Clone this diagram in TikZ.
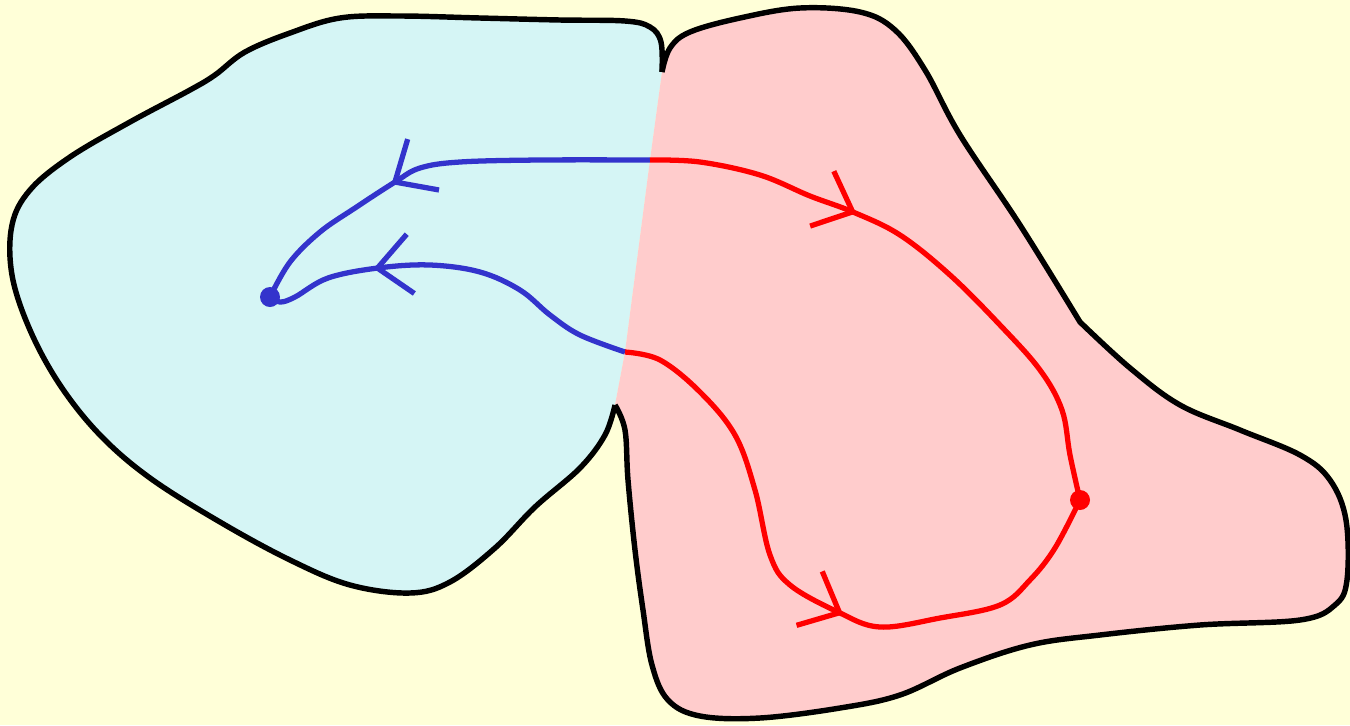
\documentclass[tikz,border=0pt]{standalone}
\usetikzlibrary{decorations.markings}

\definecolor{bgyellow}{RGB}{255,255,216}
\definecolor{lightcyan}{RGB}{213,245,245}
\definecolor{lightpink}{RGB}{255,204,204}
\definecolor{pathblue}{RGB}{51,51,204}
\definecolor{pathred}{RGB}{255,0,0}

\newcommand{\cyanrim}{plot[smooth, tension=0.6] coordinates {(662,72) (661,42) (650,27) (625,21) (560,20) (480,18) (400,16) (340,18) (290,33) (245,52) (215,75) (190,90) (130,122) (70,157) (30,190) (12,225) (12,275) (30,330) (60,385) (100,435) (150,478) (220,522) (290,560) (350,585) (410,593) (450,582) (495,548) (535,507) (580,468) (605,435) (615,405)}}
\newcommand{\pinkrim}{plot[smooth, tension=0.6] coordinates {(662,72) (670,48) (690,32) (740,18) (800,8) (860,12) (895,30) (925,70) (960,135) (1020,225) (1080,322)} -- plot[smooth, tension=0.6] coordinates {(1080,322) (1130,368) (1180,405) (1240,430) (1300,455) (1330,480) (1346,520) (1347,580) (1335,605) (1300,620) (1200,625) (1100,635) (1030,645) (960,668) (900,695) (840,708) (760,718) (700,716) (668,700) (652,665) (643,610) (635,550) (628,480) (625,430) (615,405)}}

\begin{document}
\begin{tikzpicture}[x=0.02cm, y=-0.02cm, line join=round,
    outline/.style={line width=3.1pt, black},
    bluepath/.style={line width=3pt, pathblue},
    redpath/.style={line width=3pt, pathred},
    barb/.style 2 args={postaction={decorate}, decoration={markings,
        mark=at position #1 with {\draw[#2, line width=3pt, line join=miter] (-19pt,17pt) -- (0pt,0pt) -- (-19pt,-17pt);}}}]
    \useasboundingbox (0,0) rectangle (1350,725);
    \fill[bgyellow] (0,0) rectangle (1350,725);

    % meeting points on the border between the two regions
    \coordinate (top) at (662,72);
    \coordinate (a) at (650,160);
    \coordinate (b) at (625,352);
    \coordinate (low) at (615,405);
    % end points
    \coordinate (p) at (270,297);
    \coordinate (q) at (1080,500);

    % regions
    \fill[lightcyan] \cyanrim -- (b) -- (a) -- cycle;
    \fill[lightpink] \pinkrim -- (b) -- (a) -- cycle;
    \draw[outline] \cyanrim;
    \draw[outline] \pinkrim;

    % blue paths
    \draw[bluepath, barb={0.6}{pathblue}] plot[smooth, tension=0.6] coordinates {(a) (540,160) (460,162) (420,168) (395,182) (355,208) (320,232) (290,262) (p)};
    \draw[bluepath, barb={0.7}{pathblue}] plot[smooth, tension=0.6] coordinates {(b) (580,335) (550,315) (520,290) (480,272) (430,265) (378,268) (328,278) (295,297) (280,302) (p)};

    % red paths
    \draw[redpath, barb={0.354}{pathred}] plot[smooth, tension=0.6] coordinates {(a) (700,162) (760,175) (810,196) (853,212) (900,235) (950,275) (1000,325) (1040,370) (1062,410) (1070,455) (q)};
    \draw[redpath, barb={0.547}{pathred}] plot[smooth, tension=0.6] coordinates {(b) (660,360) (700,392) (735,435) (755,490) (770,555) (790,585) (838,612) (880,627) (940,618) (1000,605) (1030,580) (1055,548) (q)};

    \fill[pathblue] (p) circle (10);
    \fill[pathred] (q) circle (10);
\end{tikzpicture}
\end{document}
